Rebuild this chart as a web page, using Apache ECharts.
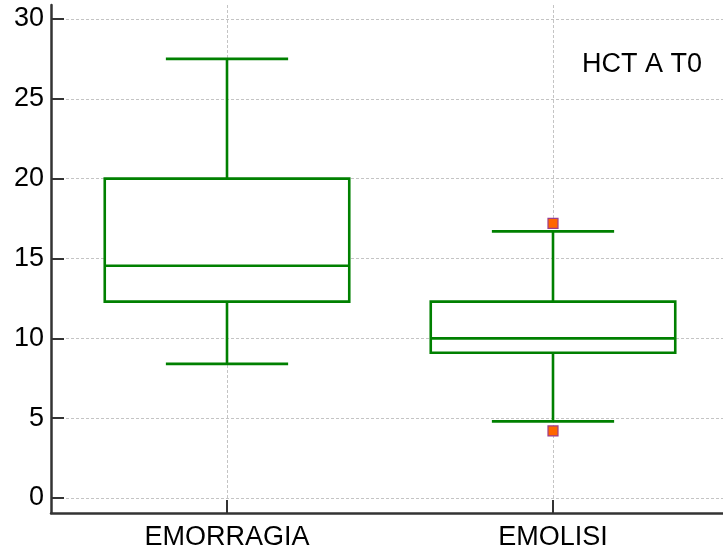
<!DOCTYPE html>
<html>
<head>
<meta charset="utf-8">
<title>HCT A T0</title>
<script src="https://cdn.jsdelivr.net/npm/echarts@6/dist/echarts.min.js"></script>
<style>
  html, body { margin: 0; padding: 0; background: #fff; }
  #chart { width: 723px; height: 554px; }
</style>
</head>
<body>
<div id="chart"></div>
<script>
// Groups on the horizontal axis
const categories = ['EMORRAGIA', 'EMOLISI'];
// Five-number summaries per group: [min whisker, Q1, median, Q3, max whisker]
const whiskerLow  = [8.4, 4.8];
const quartile1   = [12.3, 9.1];
const medians     = [14.55, 10.0];
const quartile3   = [20.0, 12.3];
const whiskerHigh = [27.5, 16.7];
// Outlying observations: [group index, value]
const outliers = [[1, 17.2], [1, 4.2]];
// Value-axis tick labels
const yTicks = [0, 5, 10, 15, 20, 25, 30];

const chartTitle = 'HCT A T0';

// Layout (pixels) and styling
const FONT = "'Liberation Sans', Arial, Helvetica, sans-serif";
const GREEN = '#008000';
const AXIS_COLOR = '#333333';
const GRID_COLOR = '#c4c4c4';
const FRAME = { left: 51, right: 0, top: 5, bottom: 41 };    // axis lines
const SCALE = { left: 51, right: 0, top: 19, bottom: 56 };   // 0..30 span
const PLOT  = { left: 64, right: 7, top: 5, bottom: 41 };    // boxes
const H = 554;

const yMin = yTicks[0];
const yMax = yTicks[yTicks.length - 1];
const yStep = yTicks[1] - yTicks[0];
// Value range of the full frame, derived from the labelled span
const pxPerUnit = (H - SCALE.top - SCALE.bottom) / (yMax - yMin);
const frameLow = yMin - (SCALE.bottom - PLOT.bottom) / pxPerUnit;
const frameHigh = yMax + (SCALE.top - PLOT.top) / pxPerUnit;

const BOX_FRACTION = 0.75;   // box width relative to a category band
const CAP_FRACTION = 0.375;  // whisker cap width relative to a category band
const STROKE = 2.6;

const boxData = categories.map((c, i) => [
  i, whiskerLow[i], quartile1[i], medians[i], quartile3[i], whiskerHigh[i]
]);

function renderBox(params, api) {
  const idx = api.value(0);
  const band = api.size([1, 0])[0];
  const hw = band * BOX_FRACTION / 2;
  const cw = band * CAP_FRACTION / 2;
  const pLow = api.coord([idx, api.value(1)]);
  const pQ1 = api.coord([idx, api.value(2)]);
  const pMed = api.coord([idx, api.value(3)]);
  const pQ3 = api.coord([idx, api.value(4)]);
  const pHigh = api.coord([idx, api.value(5)]);
  const cx = pMed[0];
  const line = { stroke: GREEN, lineWidth: STROKE, fill: null };
  return {
    type: 'group',
    children: [
      { type: 'line', shape: { x1: cx, y1: pHigh[1], x2: cx, y2: pQ3[1] }, style: line },
      { type: 'line', shape: { x1: cx, y1: pQ1[1], x2: cx, y2: pLow[1] }, style: line },
      { type: 'line', shape: { x1: cx - cw, y1: pHigh[1], x2: cx + cw, y2: pHigh[1] }, style: line },
      { type: 'line', shape: { x1: cx - cw, y1: pLow[1], x2: cx + cw, y2: pLow[1] }, style: line },
      { type: 'rect', shape: { x: cx - hw, y: pQ3[1], width: 2 * hw, height: pQ1[1] - pQ3[1] },
        style: { fill: '#ffffff', stroke: GREEN, lineWidth: STROKE } },
      { type: 'line', shape: { x1: cx - hw, y1: pMed[1], x2: cx + hw, y2: pMed[1] }, style: line }
    ]
  };
}

const chart = echarts.init(document.getElementById('chart'), null, { renderer: 'canvas' });

chart.setOption({
  backgroundColor: '#ffffff',
  animation: false,
  title: {
    text: chartTitle,
    right: 21,
    top: 51,
    padding: 0,
    textStyle: { fontFamily: FONT, fontSize: 27, fontWeight: 'normal', color: '#000' }
  },
  grid: [
    { left: FRAME.left, right: FRAME.right, top: FRAME.top, bottom: FRAME.bottom },
    { left: SCALE.left, right: SCALE.right, top: SCALE.top, bottom: SCALE.bottom },
    { left: PLOT.left, right: PLOT.right, top: PLOT.top, bottom: PLOT.bottom }
  ],
  xAxis: [
    {
      gridIndex: 0, type: 'value', min: 0, max: 1, z: 6,
      axisLine: { show: true, onZero: false, lineStyle: { color: AXIS_COLOR, width: 2.5 } },
      axisTick: { show: false }, axisLabel: { show: false }, splitLine: { show: false }
    },
    { gridIndex: 1, type: 'value', show: false, min: 0, max: 1 },
    {
      gridIndex: 2, type: 'category', data: categories, boundaryGap: true, z: 6,
      axisLine: { show: false, onZero: false },
      axisTick: { show: true, inside: true, length: 13, alignWithLabel: true,
                  lineStyle: { color: AXIS_COLOR, width: 2 } },
      axisLabel: { margin: 11, fontFamily: FONT, fontSize: 27, color: '#000' },
      splitLine: { show: false }
    }
  ],
  yAxis: [
    {
      gridIndex: 0, type: 'value', min: 0, max: 1, z: 6,
      axisLine: { show: true, onZero: false, lineStyle: { color: AXIS_COLOR, width: 2.5 } },
      axisTick: { show: false }, axisLabel: { show: false }, splitLine: { show: false }
    },
    {
      gridIndex: 1, type: 'value', min: yMin, max: yMax, interval: yStep,
      axisLine: { show: false, onZero: false },
      axisTick: { show: true, inside: true, length: 13, lineStyle: { color: AXIS_COLOR, width: 2 } },
      axisLabel: { margin: 7, fontFamily: FONT, fontSize: 27, color: '#000' },
      splitLine: { show: true, lineStyle: { color: GRID_COLOR, width: 1, type: [3, 2] } }
    },
    { gridIndex: 2, type: 'value', show: false, min: frameLow, max: frameHigh }
  ],
  series: [
    {
      // vertical guide lines through each category centre
      type: 'scatter',
      xAxisIndex: 2, yAxisIndex: 2,
      data: [],
      z: 1,
      silent: true,
      markLine: {
        z: 1,
        zlevel: 0,
        silent: true,
        symbol: 'none',
        animation: false,
        label: { show: false },
        lineStyle: { color: GRID_COLOR, width: 1, type: [3, 2] },
        data: categories.map(c => ({ xAxis: c }))
      }
    },
    {
      type: 'custom',
      xAxisIndex: 2, yAxisIndex: 2,
      renderItem: renderBox,
      encode: { x: 0, y: [1, 2, 3, 4, 5] },
      data: boxData,
      z: 3
    },
    {
      type: 'scatter',
      xAxisIndex: 2, yAxisIndex: 2,
      symbol: 'rect', symbolSize: 10,
      itemStyle: { color: '#ff6600', borderColor: '#9c3d8c', borderWidth: 1.2, opacity: 1 },
      data: outliers,
      z: 4
    }
  ]
});
</script>
</body>
</html>
